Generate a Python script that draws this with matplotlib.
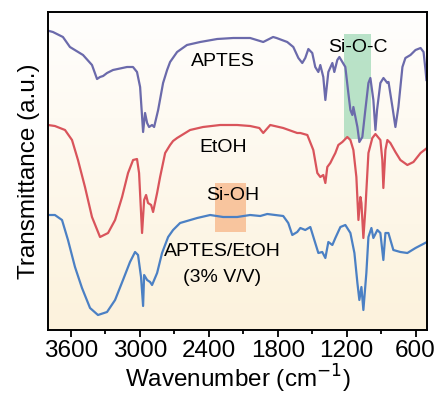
import numpy as np
import matplotlib
matplotlib.use("Agg")
import matplotlib.pyplot as plt
from matplotlib.colors import LinearSegmentedColormap

plt.rcParams['font.family'] = ['Liberation Sans', 'DejaVu Sans']

# FTIR traces (wavenumber in cm-1, transmittance in a.u.)
aptes_wn = [3790, 3757, 3670, 3609, 3495, 3417, 3373, 3347, 3320, 3286, 3234, 3112, 3060,
            3025, 2998, 2972, 2955, 2937, 2920, 2894, 2876, 2841, 2798, 2763, 2737, 2676,
            2590, 2475, 2327, 2187, 2040, 1926, 1840, 1810, 1717, 1664, 1620, 1586, 1560,
            1533, 1499, 1473, 1446, 1429, 1403, 1385, 1359, 1324, 1307, 1281, 1263, 1237,
            1211, 1185, 1167, 1150, 1141, 1106, 1089, 1063, 1037, 1010, 993, 967, 949, 935,
            906, 879, 845, 835, 801, 775, 749, 714, 688, 644, 600, 556, 530, 513, 505]
aptes_t = [299, 298, 293, 283, 275, 265, 251, 253, 254, 257, 260, 263, 263,
           258, 243, 198, 217, 207, 203, 205, 203, 220, 247, 260, 268, 278,
           285, 288, 291, 292, 292, 288, 293, 292, 288, 283, 272, 267, 272,
           281, 277, 263, 258, 265, 253, 230, 258, 267, 258, 270, 273, 268,
           263, 237, 220, 215, 223, 203, 188, 193, 220, 247, 252, 230, 200, 220,
           247, 252, 247, 248, 223, 203, 223, 263, 272, 275, 280, 282, 278, 260, 250]

etoh_wn = [3800, 3740, 3652, 3591, 3539, 3478, 3417, 3347, 3277, 3216, 3155, 3103, 3059,
           3025, 3007, 2981, 2963, 2946, 2929, 2902, 2885, 2850, 2824, 2780, 2737, 2711,
           2676, 2563, 2450, 2301, 2153, 2040, 1960, 1926, 1865, 1752, 1630, 1603, 1542,
           1490, 1455, 1429, 1403, 1385, 1368, 1342, 1316, 1298, 1272, 1237, 1194, 1167,
           1141, 1115, 1097, 1080, 1071, 1054, 1037, 1010, 976, 949, 906, 889, 880, 862,
           845, 819, 775, 732, 671, 618, 556, 500]
etoh_t = [205, 204, 200, 190, 170, 143, 113, 93, 97, 110, 133, 157, 170,
          171, 157, 97, 130, 135, 127, 125, 118, 137, 153, 177, 185, 189,
          192, 200, 203, 205, 205, 204, 202, 197, 205, 202, 197, 197, 195,
          180, 157, 153, 155, 147, 163, 167, 173, 177, 185, 188, 193, 190,
          180, 153, 110, 133, 127, 92, 120, 177, 192, 196, 190, 170, 142, 180,
          190, 187, 178, 170, 165, 168, 177, 182]

mix_wn = [3800, 3740, 3678, 3626, 3565, 3504, 3434, 3365, 3286, 3216, 3147, 3086, 3042,
          3016, 2990, 2972, 2963, 2937, 2911, 2894, 2850, 2807, 2754, 2711, 2650, 2501,
          2388, 2275, 2153, 2040, 1952, 1891, 1752, 1708, 1673, 1630, 1603, 1560, 1516,
          1473, 1446, 1412, 1385, 1359, 1324, 1298, 1254, 1211, 1167, 1132, 1106, 1089,
          1071, 1054, 1028, 1010, 984, 967, 932, 906, 880, 862, 836, 793, 732, 671, 600,
          500]
mix_t = [115, 115, 110, 90, 63, 42, 22, 15, 18, 30, 50, 68, 78,
         75, 53, 24, 55, 50, 48, 45, 57, 77, 93, 100, 107, 112,
         115, 113, 113, 115, 114, 116, 114, 107, 95, 98, 102, 100, 103,
         87, 77, 78, 72, 88, 85, 92, 103, 105, 97, 77, 47, 30,
         43, 20, 57, 93, 102, 92, 100, 97, 70, 97, 97, 80, 78, 77, 82,
         88]

ticks = [3600, 3000, 2400, 1800, 1200, 600]
minor_ticks = [3300, 2700, 2100, 1500, 900]

fig = plt.figure(figsize=(4.39, 4.00), dpi=100)
ax = fig.add_axes([48 / 439, 70 / 400, 379 / 439, 318 / 400])

# soft background gradient (white at top, cream at bottom)
cmap = LinearSegmentedColormap.from_list('bg', ['#fcf2dc', '#fffefd'])
grad = np.linspace(0, 1, 256).reshape(-1, 1)
ax.imshow(grad, cmap=cmap, origin='lower', aspect='auto',
          extent=[0, 1, 0, 1], transform=ax.transAxes, zorder=0)

# highlighted bands
ax.fill_between([1225, 990], 191, 296, color='#a8dcbc', alpha=0.8, lw=0, zorder=1)
ax.fill_between([2345, 2075], 98, 147, color='#f7b98c', alpha=0.8, lw=0, zorder=1)

ax.plot(aptes_wn, aptes_t, color='#6b6aab', lw=1.6, zorder=2)
ax.plot(etoh_wn, etoh_t, color='#d9545b', lw=1.6, zorder=2)
ax.plot(mix_wn, mix_t, color='#4b80c4', lw=1.6, zorder=2)

fs = 14
ax.text(2275, 269, 'APTES', ha='center', va='center', fontsize=fs, zorder=3)
ax.text(1098, 283, 'Si-O-C', ha='center', va='center', fontsize=fs, zorder=3)
ax.text(2275, 183, 'EtOH', ha='center', va='center', fontsize=fs, zorder=3)
ax.text(2190, 135, 'Si-OH', ha='center', va='center', fontsize=fs, zorder=3)
ax.text(2285, 78, 'APTES/EtOH', ha='center', va='center', fontsize=fs, zorder=3)
ax.text(2285, 52, '(3% V/V)', ha='center', va='center', fontsize=fs, zorder=3)

ax.set_xticks(ticks)
ax.set_xticks(minor_ticks, minor=True)
ax.set_yticks([])
ax.set_xlim(3800, 500)
ax.set_ylim(0, 318)
ax.tick_params(axis='x', which='major', direction='out', length=5, width=1.3,
               labelsize=17.5, pad=2)
ax.tick_params(axis='x', which='minor', direction='out', length=3, width=1.3)
for s in ax.spines.values():
    s.set_linewidth(1.4)

ax.set_xlabel('Wavenumber (cm$^{-1}$)', fontsize=17.5, labelpad=1)
ax.set_ylabel('Transmittance (a.u.)', fontsize=17.5, labelpad=6)

fig.savefig('out.png', dpi=100)
